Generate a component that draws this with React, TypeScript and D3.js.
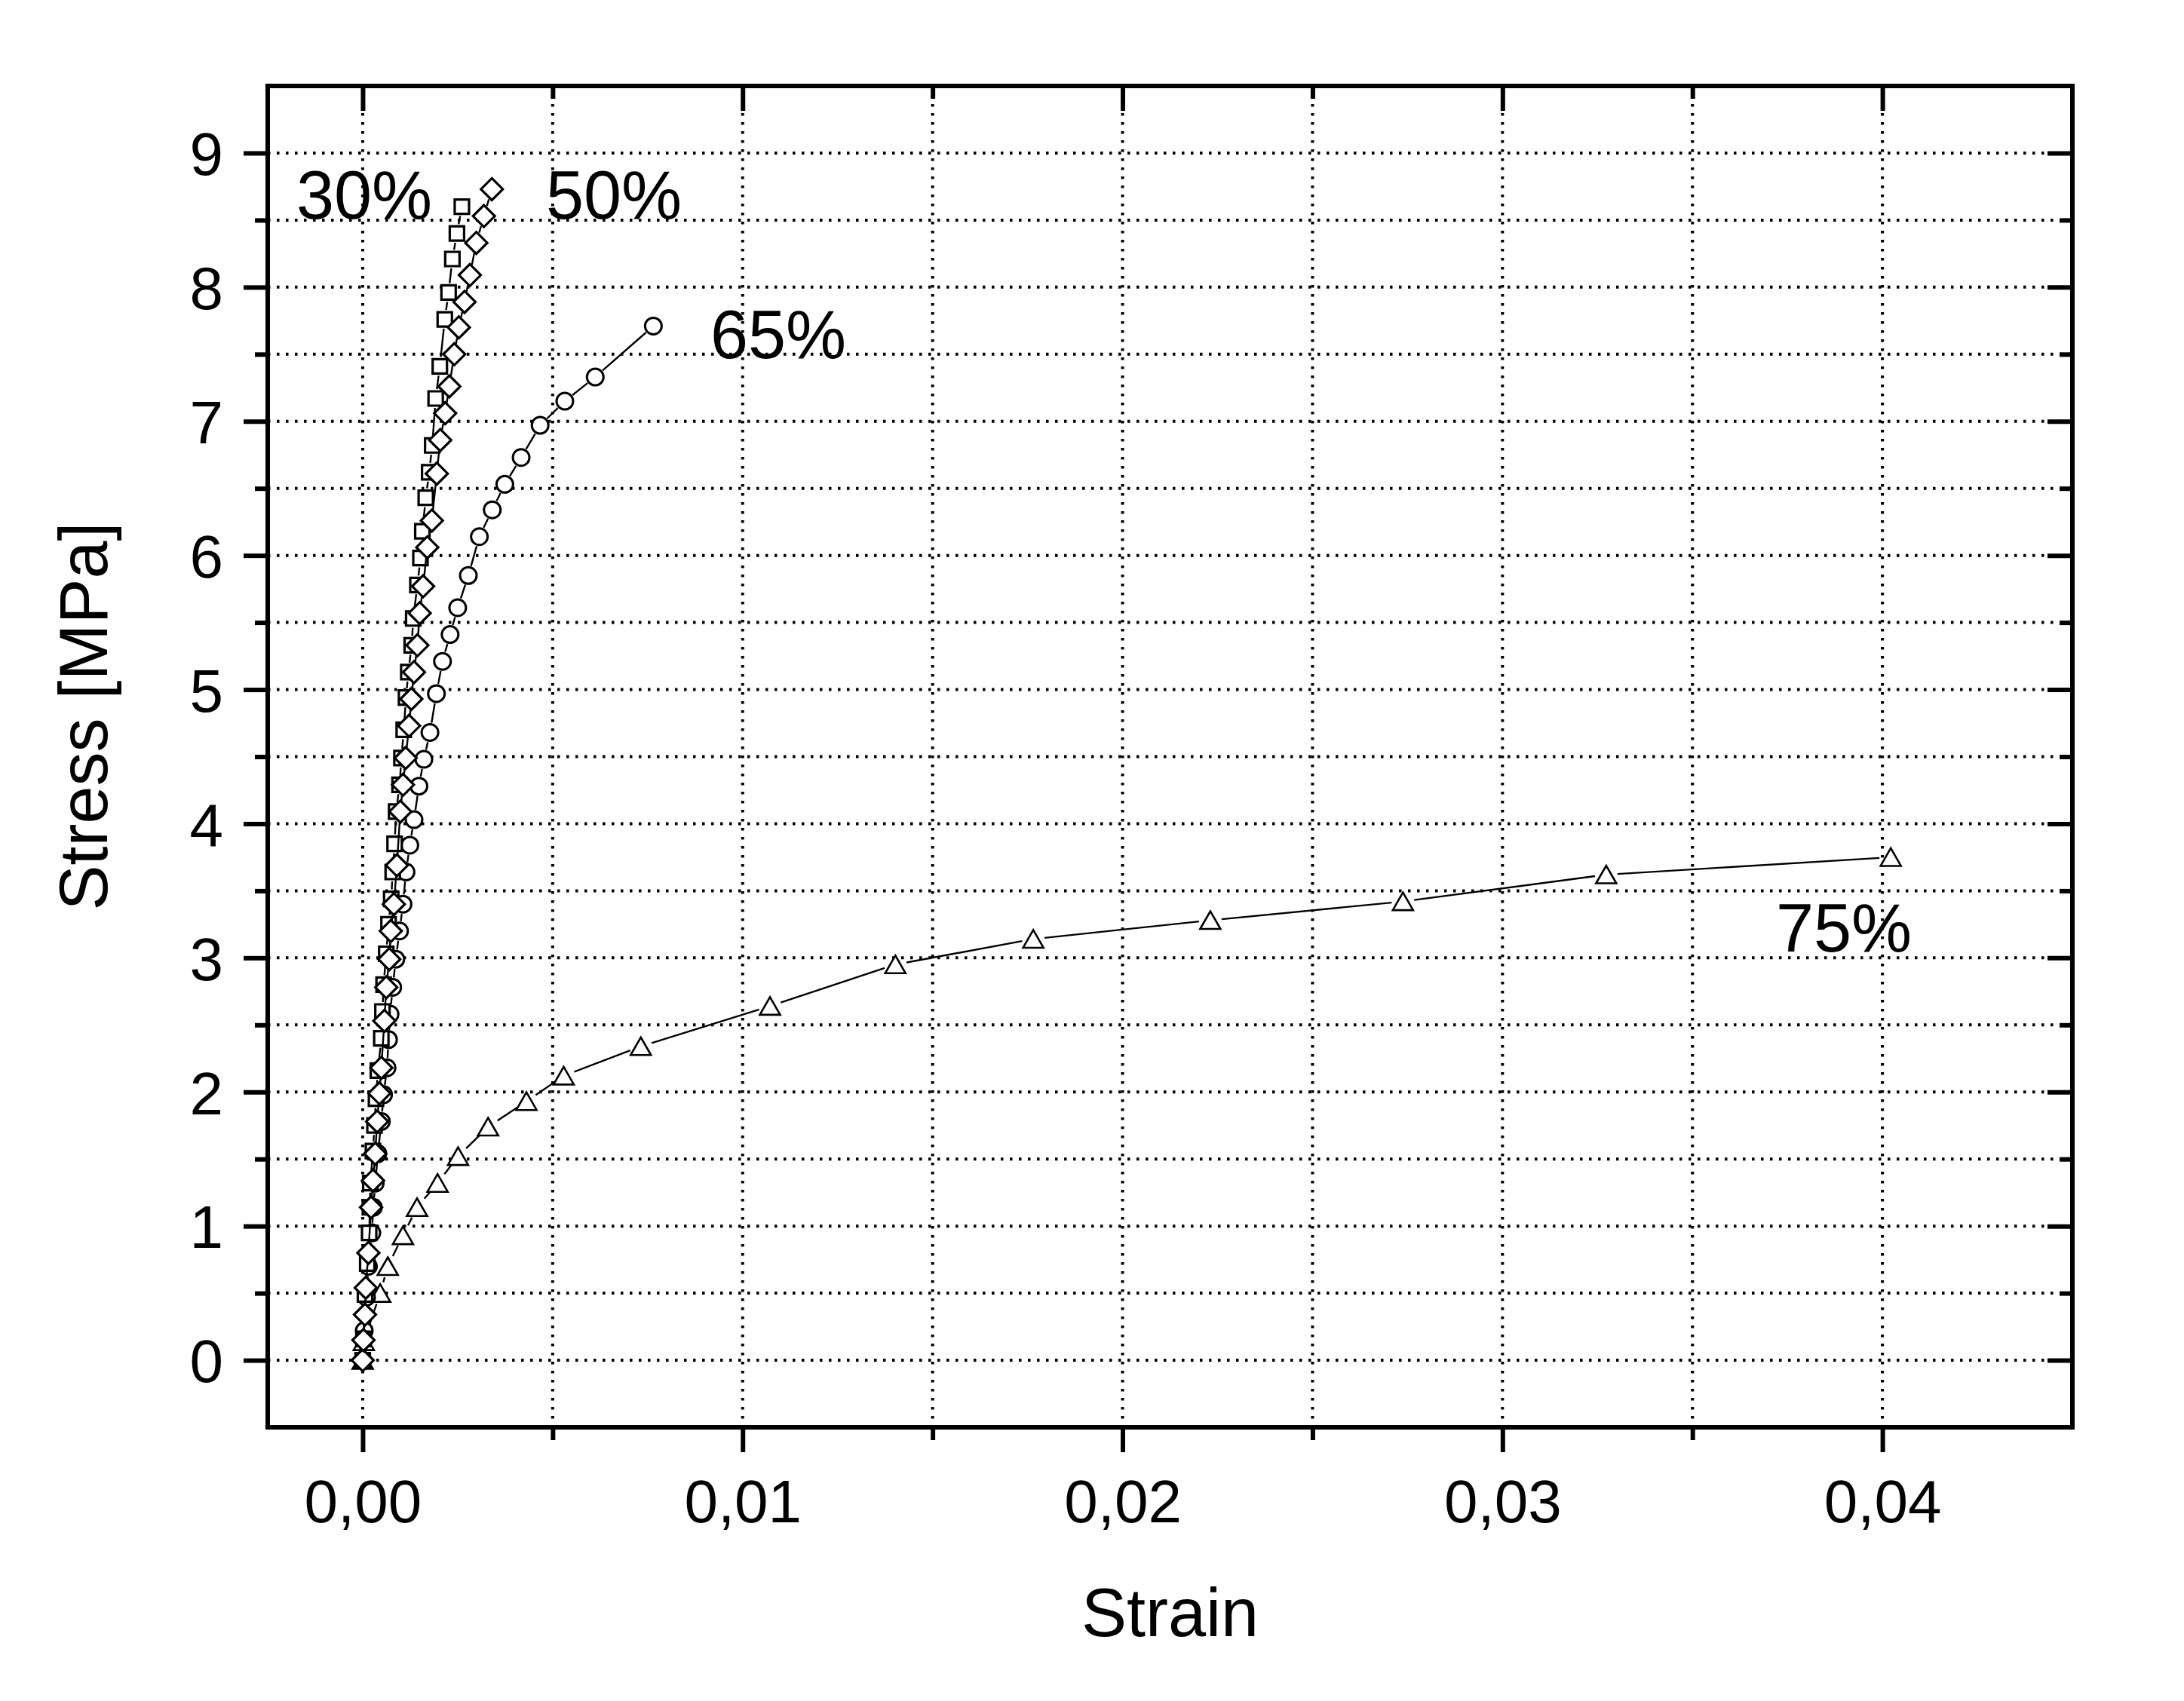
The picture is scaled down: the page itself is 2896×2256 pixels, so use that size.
import React, { useEffect, useRef } from "react";
import * as d3 from "d3";

// strain / stress
const strain30 = [0, 0.00002, 0.00006, 0.00012, 0.00017, 0.00019, 0.0002, 0.00027, 0.00031, 0.00035, 0.0004, 0.00049, 0.00052, 0.00055, 0.00062, 0.00068, 0.00075, 0.00079, 0.00084, 0.00088, 0.00097, 0.00102, 0.00108, 0.00114, 0.0012, 0.00129, 0.00133, 0.00144, 0.00152, 0.00157, 0.00166, 0.00175, 0.00183, 0.00192, 0.00203, 0.00216, 0.00226, 0.00236, 0.00248, 0.00261];
const stress30 = [0, 0.16, 0.49, 0.72, 0.95, 1.14, 1.32, 1.56, 1.75, 1.95, 2.16, 2.4, 2.6, 2.8, 3.03, 3.25, 3.44, 3.64, 3.85, 4.09, 4.29, 4.49, 4.7, 4.94, 5.13, 5.33, 5.53, 5.78, 5.98, 6.18, 6.43, 6.62, 6.82, 7.17, 7.41, 7.76, 7.96, 8.21, 8.4, 8.6];

const strain50 = [0, 0.00002, 0.00006, 0.00008, 0.00015, 0.00022, 0.00027, 0.00033, 0.00038, 0.00044, 0.00049, 0.00057, 0.00062, 0.0007, 0.00074, 0.00082, 0.0009, 0.00099, 0.00106, 0.00113, 0.00122, 0.00128, 0.00135, 0.00144, 0.0015, 0.00159, 0.0017, 0.00182, 0.00195, 0.00204, 0.00217, 0.00228, 0.00241, 0.00253, 0.00268, 0.00282, 0.00299, 0.00319, 0.0034];
const stress50 = [0, 0.15, 0.34, 0.54, 0.8, 1.14, 1.34, 1.54, 1.78, 1.99, 2.18, 2.53, 2.78, 2.99, 3.2, 3.4, 3.69, 4.09, 4.29, 4.49, 4.73, 4.93, 5.13, 5.33, 5.57, 5.77, 6.06, 6.26, 6.61, 6.86, 7.06, 7.26, 7.5, 7.7, 7.89, 8.09, 8.33, 8.53, 8.73];

const strain65 = [0, 0.00004, 0.0001, 0.00015, 0.00024, 0.00028, 0.00033, 0.0004, 0.00049, 0.00055, 0.00064, 0.00068, 0.00072, 0.00079, 0.00087, 0.00097, 0.00106, 0.00114, 0.00124, 0.00135, 0.00148, 0.00161, 0.00177, 0.00194, 0.0021, 0.0023, 0.0025, 0.00278, 0.00307, 0.00341, 0.00374, 0.00417, 0.00467, 0.00532, 0.00612, 0.00765];
const stress65 = [0, 0.22, 0.47, 0.7, 0.95, 1.14, 1.32, 1.54, 1.78, 1.98, 2.18, 2.39, 2.58, 2.78, 2.99, 3.2, 3.4, 3.64, 3.84, 4.03, 4.28, 4.48, 4.68, 4.97, 5.21, 5.41, 5.61, 5.85, 6.14, 6.34, 6.53, 6.73, 6.97, 7.15, 7.33, 7.71];

const strain75 = [0, 0.00003, 0.00046, 0.00066, 0.00106, 0.00143, 0.00197, 0.00251, 0.0033, 0.00431, 0.00529, 0.00732, 0.01072, 0.01402, 0.01765, 0.02231, 0.02738, 0.03273, 0.04022];
const stress75 = [0, 0.14, 0.5, 0.7, 0.93, 1.14, 1.32, 1.52, 1.74, 1.93, 2.12, 2.34, 2.64, 2.95, 3.14, 3.28, 3.42, 3.62, 3.75];

const xTicks = [0, 0.01, 0.02, 0.03, 0.04];
const xTickLabels = ["0,00", "0,01", "0,02", "0,03", "0,04"];
const xMinorTicks = [0.005, 0.015, 0.025, 0.035];
const yTicks = [0, 1, 2, 3, 4, 5, 6, 7, 8, 9];
const yMinorTicks = [0.5, 1.5, 2.5, 3.5, 4.5, 5.5, 6.5, 7.5, 8.5];

const W = 2896;
const H = 2256;
const FONT = "'Liberation Sans', Arial, sans-serif";

// marker outlines, centred on the point
const shapes = {
  square: { path: "M-9.5,-9.5h19v19h-19Z", r: 10.5 },
  diamond: { path: "M0,-14.5L14.5,0L0,14.5L-14.5,0Z", r: 12 },
  circle: { path: "M-11,0a11,11 0 1,0 22,0a11,11 0 1,0 -22,0Z", r: 11 },
  triangle: { path: "M0,-12L13.5,11.5L-13.5,11.5Z", r: 13 },
};

function App() {
  const svgRef = useRef(null);

  useEffect(() => {
    document.body.style.margin = "0";
    const svg = d3.select(svgRef.current);
    svg.selectAll("*").remove();

    const left = 355, right = 2748, top = 114, bottom = 1893;
    const x = d3.scaleLinear().domain([-0.0025, 0.045]).range([left, right]);
    const y = d3.scaleLinear().domain([-0.5, 9.5]).range([bottom, top]);

    svg.append("rect").attr("width", W).attr("height", H).attr("fill", "white");

    // dotted grid on major + minor positions
    const grid = svg.append("g").attr("stroke", "#000").attr("stroke-width", 4).attr("stroke-dasharray", "3.5 8.5");
    [...xTicks, ...xMinorTicks].forEach((v) => {
      grid.append("line").attr("x1", x(v)).attr("x2", x(v)).attr("y1", top).attr("y2", bottom);
    });
    [...yTicks, ...yMinorTicks].forEach((v) => {
      grid.append("line").attr("x1", left).attr("x2", right).attr("y1", y(v)).attr("y2", y(v));
    });

    // curves
    const series = [
      { strain: strain75, stress: stress75, shape: shapes.triangle, sw: 2.6 },
      { strain: strain65, stress: stress65, shape: shapes.circle, sw: 3 },
      { strain: strain30, stress: stress30, shape: shapes.square, sw: 3.2 },
      { strain: strain50, stress: stress50, shape: shapes.diamond, sw: 3.2 },
    ];

    series.forEach((s) => {
      const pts = s.strain.map((v, i) => [x(v), y(s.stress[i])]);
      const g = svg.append("g");
      const gap = s.shape.r + 2;
      // line segments stop short of the symbols
      for (let i = 0; i < pts.length - 1; i++) {
        const [x0, y0] = pts[i];
        const [x1, y1] = pts[i + 1];
        const len = Math.hypot(x1 - x0, y1 - y0);
        if (len <= gap * 2) continue;
        const ux = (x1 - x0) / len, uy = (y1 - y0) / len;
        g.append("line")
          .attr("x1", x0 + ux * gap).attr("y1", y0 + uy * gap)
          .attr("x2", x1 - ux * gap).attr("y2", y1 - uy * gap)
          .attr("stroke", "#000").attr("stroke-width", 2.4);
      }
      g.selectAll("path.m")
        .data(pts)
        .join("path")
        .attr("class", "m")
        .attr("transform", (d) => `translate(${d[0]},${d[1]})`)
        .attr("d", s.shape.path)
        .attr("fill", "white")
        .attr("stroke", "#000")
        .attr("stroke-width", s.sw);
    });

    // ticks
    const tickStyle = (g) => {
      g.select(".domain").remove();
      g.selectAll("line").attr("stroke", "#000").attr("stroke-width", 6);
      g.selectAll("text").attr("font-family", FONT).attr("font-size", 80).attr("fill", "#000");
    };

    svg.append("g").attr("transform", `translate(0,${bottom})`)
      .call(d3.axisBottom(x).tickValues(xTicks).tickSize(33).tickPadding(36).tickFormat((d, i) => xTickLabels[i]))
      .call(tickStyle);
    svg.append("g").attr("transform", `translate(0,${bottom})`)
      .call(d3.axisBottom(x).tickValues(xMinorTicks).tickSize(17).tickFormat(() => ""))
      .call(tickStyle);
    svg.append("g").attr("transform", `translate(0,${top})`)
      .call(d3.axisTop(x).tickValues(xTicks).tickSize(-33).tickFormat(() => ""))
      .call(tickStyle);
    svg.append("g").attr("transform", `translate(0,${top})`)
      .call(d3.axisTop(x).tickValues(xMinorTicks).tickSize(-17).tickFormat(() => ""))
      .call(tickStyle);

    svg.append("g").attr("transform", `translate(${left},0)`)
      .call(d3.axisLeft(y).tickValues(yTicks).tickSize(32).tickPadding(27).tickFormat(d3.format("d")))
      .call(tickStyle)
      .selectAll("text").attr("dy", "0.36em");
    svg.append("g").attr("transform", `translate(${left},0)`)
      .call(d3.axisLeft(y).tickValues(yMinorTicks).tickSize(17).tickFormat(() => ""))
      .call(tickStyle);
    svg.append("g").attr("transform", `translate(${right},0)`)
      .call(d3.axisRight(y).tickValues(yTicks).tickSize(-33).tickFormat(() => ""))
      .call(tickStyle);
    svg.append("g").attr("transform", `translate(${right},0)`)
      .call(d3.axisRight(y).tickValues(yMinorTicks).tickSize(-17).tickFormat(() => ""))
      .call(tickStyle);

    // frame
    svg.append("rect")
      .attr("x", left).attr("y", top)
      .attr("width", right - left).attr("height", bottom - top)
      .attr("fill", "none").attr("stroke", "#000").attr("stroke-width", 6);

    // axis titles
    svg.append("text")
      .attr("x", (left + right) / 2).attr("y", 2170)
      .attr("text-anchor", "middle")
      .attr("font-family", FONT).attr("font-size", 90)
      .text("Strain");
    svg.append("text")
      .attr("transform", `translate(142,950) rotate(-90)`)
      .attr("text-anchor", "middle")
      .attr("font-family", FONT).attr("font-size", 90)
      .text("Stress [MPa]");

    // curve labels
    const labels = [
      { text: "30%", px: 393, py: 290 },
      { text: "50%", px: 724, py: 290 },
      { text: "65%", px: 942, py: 475 },
      { text: "75%", px: 2355, py: 1262 },
    ];
    labels.forEach((l) => {
      svg.append("text")
        .attr("x", l.px).attr("y", l.py)
        .attr("font-family", FONT).attr("font-size", 90)
        .text(l.text);
    });
  }, []);

  return <svg ref={svgRef} width={W} height={H} style={{ display: "block" }} />;
}

export default App;
